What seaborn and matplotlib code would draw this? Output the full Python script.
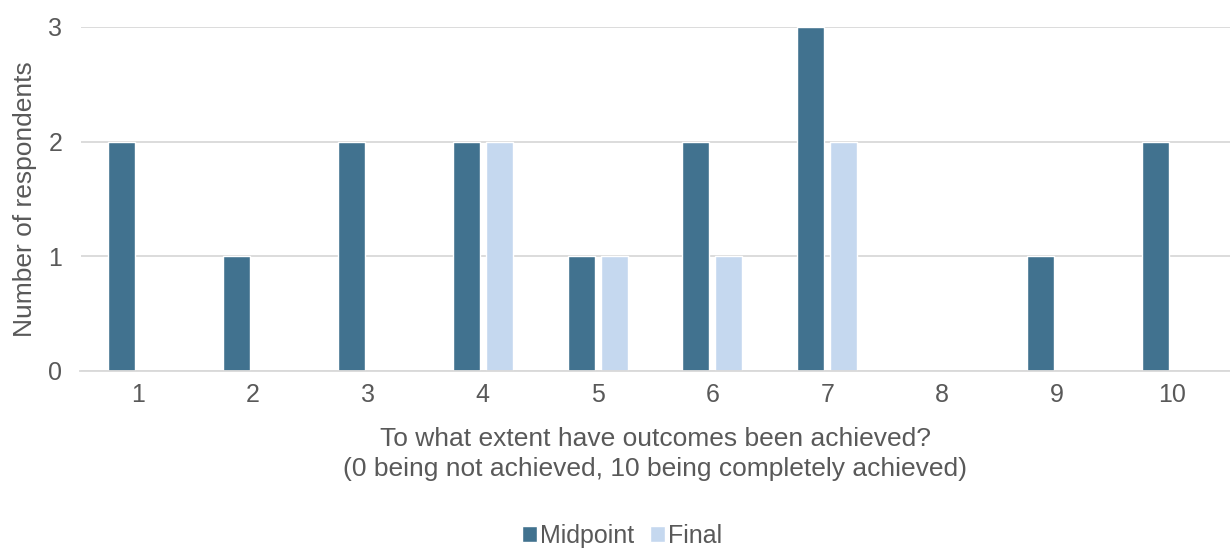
import matplotlib
matplotlib.use("Agg")
import matplotlib.pyplot as plt
import seaborn as sns
import pandas as pd

scores = [1, 2, 3, 4, 5, 6, 7, 8, 9, 10]
midpoint = [2, 1, 2, 2, 1, 2, 3, 0, 1, 2]
final = [0, 0, 0, 2, 1, 1, 2, 0, 0, 0]
series_names = ["Midpoint", "Final"]
colors = ["#41728F", "#C5D8EF"]

df = pd.DataFrame({
    "score": [str(s) for s in scores] * 2,
    "count": midpoint + final,
    "series": [series_names[0]] * len(scores) + [series_names[1]] * len(scores),
})

sns.set_theme(style="white")
plt.rcParams["font.family"] = ["Liberation Sans", "DejaVu Sans"]
text_color = "#595959"

fig = plt.figure(figsize=(12.3, 5.49), dpi=100)
ax = fig.add_axes([80.5 / 1230, 1 - 371 / 549, 1149 / 1230, 344 / 549])

sns.barplot(data=df, x="score", y="count", hue="series", palette=colors,
            width=0.574, gap=0.18, ax=ax, legend=True, saturation=1)

ax.set_ylim(0, 3)
ax.set_yticks([0, 1, 2, 3])
ax.yaxis.grid(True, color="#D9D9D9", linewidth=1.3)
ax.set_axisbelow(True)
for side in ["top", "right", "left"]:
    ax.spines[side].set_visible(False)
ax.spines["bottom"].set_color("#D9D9D9")
ax.spines["bottom"].set_linewidth(1.3)
ax.tick_params(axis="both", length=0, labelsize=18, colors=text_color)
ax.tick_params(axis="x", pad=9)
ax.tick_params(axis="y", pad=13)

ax.set_ylabel("Number of respondents", fontsize=19, color=text_color, labelpad=8)
ax.set_xlabel("To what extent have outcomes been achieved?\n(0 being not achieved, 10 being completely achieved)",
              fontsize=19, color=text_color, labelpad=14, linespacing=1.3)

handles, labels = ax.get_legend_handles_labels()
ax.legend(handles, labels, loc="center",
          bbox_to_anchor=((622 - 80.5) / 1149, (371 - 536) / 344),
          ncol=2, frameon=False, fontsize=18, labelcolor=text_color,
          handlelength=0.6, handleheight=0.6, handletextpad=0.15, columnspacing=0.6)

fig.savefig("out.png", dpi=100)
